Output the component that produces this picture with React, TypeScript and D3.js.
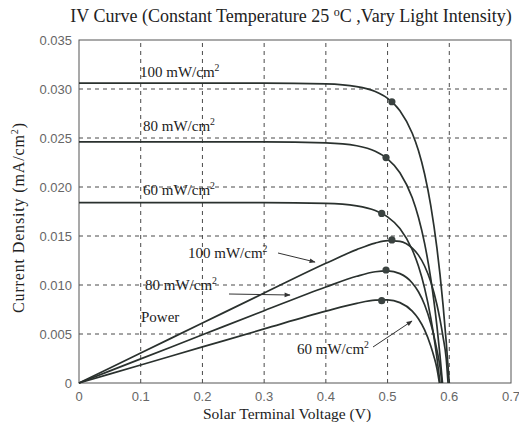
import React from "react";
import * as d3 from "d3";

const W = 519;
const H = 422;

const xTicks = [0, 0.1, 0.2, 0.3, 0.4, 0.5, 0.6, 0.7];
const xTickLabels = ["0", "0.1", "0.2", "0.3", "0.4", "0.5", "0.6", "0.7"];
const yTicks = [0, 0.005, 0.01, 0.015, 0.02, 0.025, 0.03, 0.035];
const yTickLabels = ["0", "0.005", "0.010", "0.015", "0.020", "0.025", "0.030", "0.035"];

// I-V curves (V, current density)
const iv100: [number, number][] = [
  [0, 0.0306], [0.1, 0.0306], [0.2, 0.0306], [0.3, 0.0306], [0.4, 0.03052], [0.45, 0.03025],
  [0.48, 0.02975], [0.5, 0.02905], [0.52, 0.02779], [0.54, 0.02549], [0.55, 0.02372],
  [0.56, 0.02133], [0.57, 0.01811], [0.58, 0.01376], [0.585, 0.01105], [0.59, 0.0079],
  [0.595, 0.00424], [0.6, 0],
];
const iv80: [number, number][] = [
  [0, 0.0246], [0.1, 0.0246], [0.2, 0.0246], [0.3, 0.0246], [0.4, 0.02451], [0.45, 0.02421],
  [0.48, 0.02365], [0.5, 0.02287], [0.52, 0.02146], [0.54, 0.0189], [0.55, 0.01692],
  [0.56, 0.01425], [0.57, 0.01065], [0.575, 0.00841], [0.58, 0.0058], [0.585, 0.00276],
  [0.589, 0],
];
const iv60: [number, number][] = [
  [0, 0.0184], [0.1, 0.0184], [0.2, 0.0184], [0.3, 0.0184], [0.4, 0.01833], [0.45, 0.01807],
  [0.48, 0.0176], [0.5, 0.01695], [0.52, 0.01576], [0.54, 0.0136], [0.55, 0.01193],
  [0.56, 0.00968], [0.57, 0.00664], [0.575, 0.00475], [0.58, 0.00256], [0.585, 0],
];

// Power curves
const p100: [number, number][] = [
  [0, 0], [0.1, 0.00306], [0.2, 0.00612], [0.3, 0.00918], [0.4, 0.01221], [0.45, 0.01361],
  [0.48, 0.01428], [0.5, 0.01453], [0.52, 0.01445], [0.54, 0.01376], [0.55, 0.01305],
  [0.56, 0.01194], [0.57, 0.01032], [0.58, 0.00798], [0.585, 0.00646], [0.59, 0.00466],
  [0.595, 0.00252], [0.598, 0],
];
const p80: [number, number][] = [
  [0, 0], [0.1, 0.00246], [0.2, 0.00492], [0.3, 0.00738], [0.4, 0.0098], [0.45, 0.01089],
  [0.48, 0.01135], [0.5, 0.01144], [0.52, 0.01116], [0.54, 0.01021], [0.55, 0.00931],
  [0.56, 0.00798], [0.57, 0.00607], [0.575, 0.00484], [0.58, 0.00336], [0.585, 0.00161],
  [0.588, 0],
];
const p60: [number, number][] = [
  [0, 0], [0.1, 0.00184], [0.2, 0.00368], [0.3, 0.00552], [0.4, 0.00733], [0.45, 0.00813],
  [0.48, 0.00845], [0.5, 0.00848], [0.52, 0.0082], [0.54, 0.00734], [0.55, 0.00656],
  [0.56, 0.00542], [0.57, 0.00378], [0.575, 0.00273], [0.58, 0.00148], [0.584, 0],
];

// Maximum power points
const mppIV: [number, number][] = [[0.507, 0.0287], [0.4975, 0.023], [0.4905, 0.0173]];
const mppP: [number, number][] = [[0.507, 0.0146], [0.4975, 0.01153], [0.4905, 0.0084]];

const x = d3.scaleLinear().domain([0, 0.7]).range([79, 511]);
const y = d3.scaleLinear().domain([0, 0.035]).range([383, 40]);

const line = d3
  .line<[number, number]>()
  .x((d) => x(d[0]))
  .y((d) => y(d[1]))
  .curve(d3.curveMonotoneX);

const SERIF = "'Liberation Serif', 'DejaVu Serif', serif";
const SANS = "'Liberation Sans', Arial, sans-serif";
const LINE_COLOR = "#2a312e";

function Label({ xx, yy, text, size = 15 }: { xx: number; yy: number; text: string; size?: number }) {
  return (
    <text x={xx} y={yy} fontFamily={SERIF} fontSize={size} fill="#222">
      {text}
      <tspan dy={-6} fontSize={size * 0.65}>2</tspan>
    </text>
  );
}

export default function App() {
  const curves = [iv100, iv80, iv60, p100, p80, p60];
  return (
    <svg
      width={W}
      height={H}
      viewBox={`0 0 ${W} ${H}`}
      style={{ position: "absolute", left: 0, top: 0, background: "#fff" }}
    >
      <defs>
        <marker id="arr" viewBox="0 0 10 10" refX="9" refY="5" markerWidth="7" markerHeight="6" orient="auto">
          <path d="M0,1 L10,5 L0,9 z" fill="#333" />
        </marker>
      </defs>
      {/* grid */}
      {xTicks.slice(1, -1).map((t) => (
        <line key={"gx" + t} x1={x(t)} x2={x(t)} y1={y(0)} y2={y(0.035)} stroke="#4a4a4a" strokeWidth={1} strokeDasharray="4,4" />
      ))}
      {yTicks.slice(1, -1).map((t) => (
        <line key={"gy" + t} x1={x(0)} x2={x(0.7)} y1={y(t)} y2={y(t)} stroke="#4a4a4a" strokeWidth={1} strokeDasharray="4,4" />
      ))}
      {/* frame */}
      <rect x={x(0)} y={y(0.035)} width={x(0.7) - x(0)} height={y(0) - y(0.035)} fill="none" stroke="#555" strokeWidth={1} />
      {/* tick labels */}
      {xTicks.map((t, i) => (
        <text key={"tx" + t} x={x(t)} y={401} textAnchor="middle" fontFamily={SANS} fontSize={13} fill="#666">
          {xTickLabels[i]}
        </text>
      ))}
      {yTicks.map((t, i) => (
        <text key={"ty" + t} x={72} y={y(t) + 4.5} textAnchor="end" fontFamily={SANS} fontSize={13} fill="#666">
          {yTickLabels[i]}
        </text>
      ))}
      {/* curves */}
      {curves.map((c, i) => (
        <path key={"c" + i} d={line(c) || ""} fill="none" stroke={LINE_COLOR} strokeWidth={1.7} />
      ))}
      {[...mppIV, ...mppP].map((p, i) => (
        <circle key={"m" + i} cx={x(p[0])} cy={y(p[1])} r={3.6} fill="#3a4240" />
      ))}
      {/* annotations */}
      <Label xx={140} yy={77} text="100 mW/cm" />
      <Label xx={143} yy={131} text="80 mW/cm" />
      <Label xx={143} yy={195} text="60 mW/cm" />
      <Label xx={188} yy={258} text="100 mW/cm" />
      <Label xx={145} yy={290} text="80 mW/cm" />
      <text x={141} y={322} fontFamily={SERIF} fontSize={15} fill="#222">Power</text>
      <Label xx={297} yy={354} text="60 mW/cm" />
      <line x1={278} y1={253} x2={315} y2={262} stroke="#333" strokeWidth={1} markerEnd="url(#arr)" />
      <line x1={229} y1={294} x2={290} y2={295} stroke="#333" strokeWidth={1} markerEnd="url(#arr)" />
      <line x1={373} y1={347} x2={412} y2={321} stroke="#333" strokeWidth={1} markerEnd="url(#arr)" />
      {/* title */}
      <text x={291} y={22} textAnchor="middle" fontFamily={SERIF} fontSize={18} fill="#222">
        IV Curve (Constant Temperature 25 <tspan dy={-6} fontSize={12}>o</tspan>
        <tspan dy={6}>C ,Vary Light Intensity)</tspan>
      </text>
      {/* axis labels */}
      <text x={287} y={419} textAnchor="middle" fontFamily={SERIF} fontSize={15.5} fill="#222">
        Solar Terminal Voltage (V)
      </text>
      <text
        transform={`translate(24, 218) rotate(-90)`}
        textAnchor="middle"
        fontFamily={SERIF}
        fontSize={16}
        fill="#222"
        textLength={190}
        lengthAdjust="spacing"
      >
        Current Density (mA/cm<tspan dy={-6} fontSize={10}>2</tspan>
        <tspan dy={6}>)</tspan>
      </text>
    </svg>
  );
}
